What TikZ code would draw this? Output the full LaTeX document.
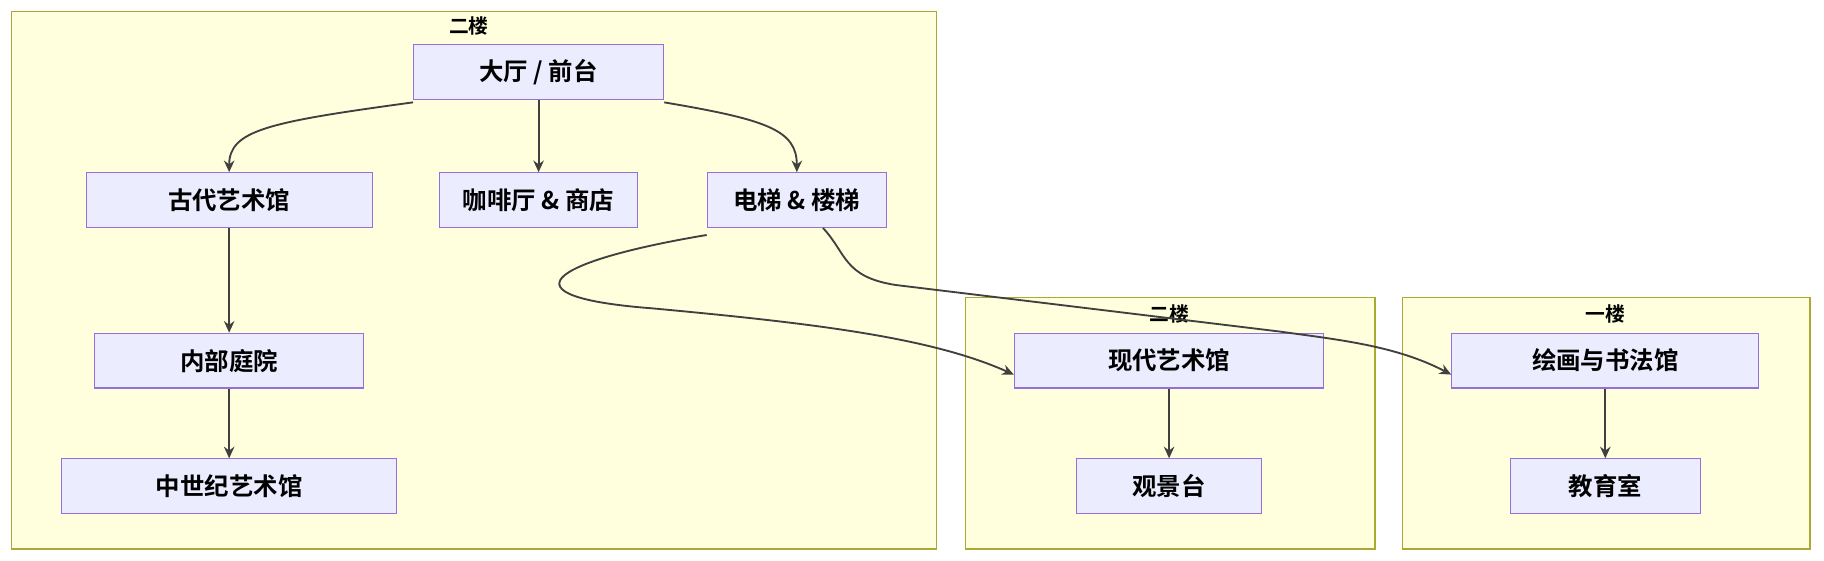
\documentclass[tikz,border=0pt]{standalone}
\usepackage{fontspec}
\setmainfont{Noto Sans CJK SC}[BoldFont={Noto Sans CJK SC Bold}]
\usetikzlibrary{arrows.meta}
\definecolor{clf}{HTML}{FFFFDE}\definecolor{cld}{HTML}{AAAA33}
\definecolor{ndf}{HTML}{ECECFF}\definecolor{ndd}{HTML}{9370DB}
\begin{document}
\begin{tikzpicture}[x=1pt,y=-1pt,
 clus/.style={draw=cld,fill=clf,line width=1pt},
 box/.style={draw=ndd,fill=ndf,line width=1pt,font=\fontsize{21}{24}\selectfont\bfseries,inner sep=0pt},
 lab/.style={font=\fontsize{17}{19}\selectfont\bfseries},
 ar/.style={draw=black!75,line width=1.6pt,-{Stealth[length=10pt,width=9pt]}}]
\useasboundingbox (0,0) rectangle (1568,482);
\fill[white] (0,0) rectangle (1568,482);
\draw[clus] (10,10) rectangle (805,472);
\draw[clus] (830,256) rectangle (1182,472);
\draw[clus] (1206,256) rectangle (1556,472);
\node[lab] (l1) at (403,22) {二楼};
\node[lab] (l2) at (1005,270) {二楼};
\node[lab] (l3) at (1380,270) {一楼};
\newcommand\nd[6]{\node[box,minimum width=#3,minimum height=47] (#1) at (#4,#5) {#6};}
\nd{lobby}{}{215}{463}{62}{大厅 / 前台}
\nd{anc}{}{246}{197}{172}{古代艺术馆}
\nd{cafe}{}{170}{463}{172}{咖啡厅 \& 商店}
\nd{elev}{}{154}{685}{172}{电梯 \& 楼梯}
\nd{court}{}{231}{197}{310}{内部庭院}
\nd{med}{}{288}{197}{418}{中世纪艺术馆}
\nd{mod}{}{266}{1005}{310}{现代艺术馆}
\nd{obs}{}{159}{1005}{418}{观景台}
\nd{paint}{}{264}{1380}{310}{绘画与书法馆}
\nd{edu}{}{163}{1380}{418}{教育室}
\draw[ar] ([yshift=-2pt]lobby.south west) .. controls (230,105) and (197,112) .. (anc.north);
\draw[ar] (lobby.south) -- (cafe.north);
\draw[ar] ([yshift=-2pt]lobby.south east) .. controls (660,103) and (685,112) .. (elev.north);
\draw[ar] (anc) -- (court);
\draw[ar] (court) -- (med);
\draw[ar] (mod) -- (obs);
\draw[ar] (paint) -- (edu);
\draw[ar] ([yshift=-6pt]elev.south west) .. controls (470,225) and (430,255) .. (560,265) .. controls (700,278) and (800,290) .. ([yshift=-12pt]mod.west);
\draw[ar] ([xshift=100pt]elev.south west) .. controls (728,218) and (725,238) .. (770,245) -- (1100,285) .. controls (1150,292) and (1200,297) .. ([yshift=-12pt]paint.west);
\end{tikzpicture}
\end{document}
